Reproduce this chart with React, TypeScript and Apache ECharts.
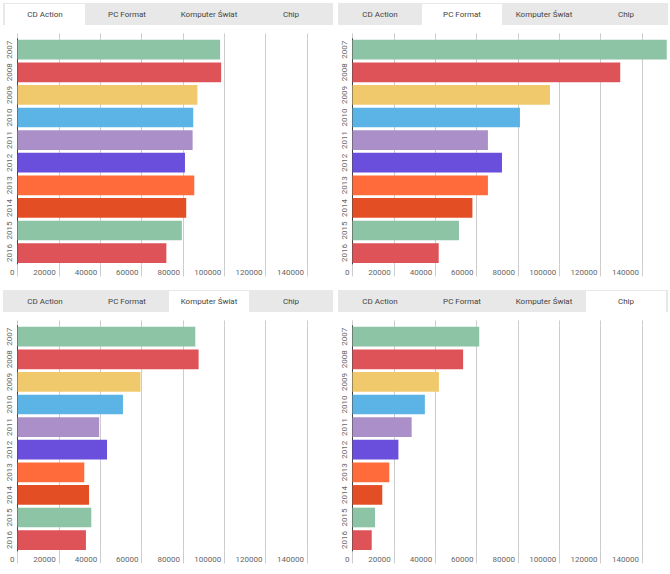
import React, { useEffect, useRef } from "react";
import * as echarts from "echarts";

const years = ["2007", "2008", "2009", "2010", "2011", "2012", "2013", "2014", "2015", "2016"];
const magazines = ["CD Action", "PC Format", "Komputer Świat", "Chip"];
const cdAction = [98000, 98500, 87000, 85000, 84700, 81000, 85500, 81600, 79500, 72000];
const pcFormat = [152000, 129500, 95500, 81000, 65500, 72300, 65500, 58000, 51500, 41700];
const komputerSwiat = [86000, 87600, 59500, 51000, 39500, 43300, 32300, 34600, 35700, 33100];
const chip = [61300, 53500, 41800, 35000, 28600, 22200, 17800, 14400, 10900, 9300];
const seriesByMagazine = [cdAction, pcFormat, komputerSwiat, chip];
const barColors = [
  "#8ec4a6", "#dd5358", "#efc96b", "#5bb4e5", "#aa8fc8",
  "#6a4fdc", "#ff6b3b", "#e44e24", "#8ec4a6", "#dd5358",
];
const axisMin = 0;
const axisMax = 160000;
const axisStep = 20000;

const FONT = "Roboto, 'Noto Sans', sans-serif";

function Panel({ index }: { index: number }) {
  const ref = useRef<HTMLDivElement>(null);
  useEffect(() => {
    if (!ref.current) return;
    const chart = echarts.init(ref.current, null, { renderer: "svg" });
    const values = seriesByMagazine[index];
    const tabs: any[] = [
      { type: "rect", shape: { x: 3, y: 3, width: 330, height: 22 }, style: { fill: "#e8e8e8" }, silent: true },
      { type: "rect", shape: { x: 5 + 82 * index, y: 4, width: 80, height: 23 }, style: { fill: "#ffffff" }, silent: true },
    ];
    magazines.forEach((m, i) => {
      tabs.push({
        type: "text",
        x: 45 + 82 * i,
        y: 14,
        style: {
          text: m,
          fill: "#444",
          font: `8px ${FONT}`,
          align: "center",
          verticalAlign: "middle",
        },
        silent: true,
      });
    });
    chart.setOption({
      animation: false,
      graphic: tabs,
      grid: { left: 17.5, top: 38.4, width: 330.8, height: 226 },
      xAxis: [
        {
          type: "value",
          min: axisMin,
          max: axisMax,
          interval: axisStep,
          axisLine: { show: false },
          axisTick: { show: true, length: 12, lineStyle: { color: "#cccccc" } },
          splitLine: { show: true, lineStyle: { color: "#cccccc" } },
          axisLabel: {
            fontSize: 8,
            color: "#666",
            fontFamily: FONT,
            align: "right",
            padding: [0, 3, 0, 0],
            margin: 4,
            showMaxLabel: false,
            formatter: (v: number) => String(v),
          },
        },
        {
          type: "value",
          position: "top",
          min: axisMin,
          max: axisMax,
          interval: axisStep,
          axisLine: { show: false },
          axisTick: { show: true, length: 5, lineStyle: { color: "#cccccc" } },
          splitLine: { show: false },
          axisLabel: { show: false },
        },
      ],
      yAxis: {
        type: "category",
        data: years,
        inverse: true,
        axisLine: { show: true, lineStyle: { color: "#444", width: 1 } },
        axisTick: { show: false },
        axisLabel: {
          rotate: 90,
          interval: 0,
          fontSize: 8,
          color: "#666",
          fontFamily: FONT,
          margin: 4,
        },
      },
      series: [
        {
          type: "bar",
          xAxisIndex: 0,
          barCategoryGap: "13%",
          data: values.map((v, i) => ({ value: v, itemStyle: { color: barColors[i] } })),
        },
      ],
    });
    return () => chart.dispose();
  }, [index]);
  return (
    <div style={{ width: 335, height: 287, overflow: "hidden", position: "relative" }}>
      <div ref={ref} style={{ width: 350, height: 287, position: "absolute", left: 0, top: 0 }} />
    </div>
  );
}

export default function App() {
  return (
    <div
      style={{
        position: "fixed",
        left: 0,
        top: 0,
        width: 670,
        height: 574,
        background: "#fff",
        display: "grid",
        gridTemplateColumns: "335px 335px",
        gridTemplateRows: "287px 287px",
      }}
    >
      {[0, 1, 2, 3].map((i) => (
        <Panel key={i} index={i} />
      ))}
    </div>
  );
}
